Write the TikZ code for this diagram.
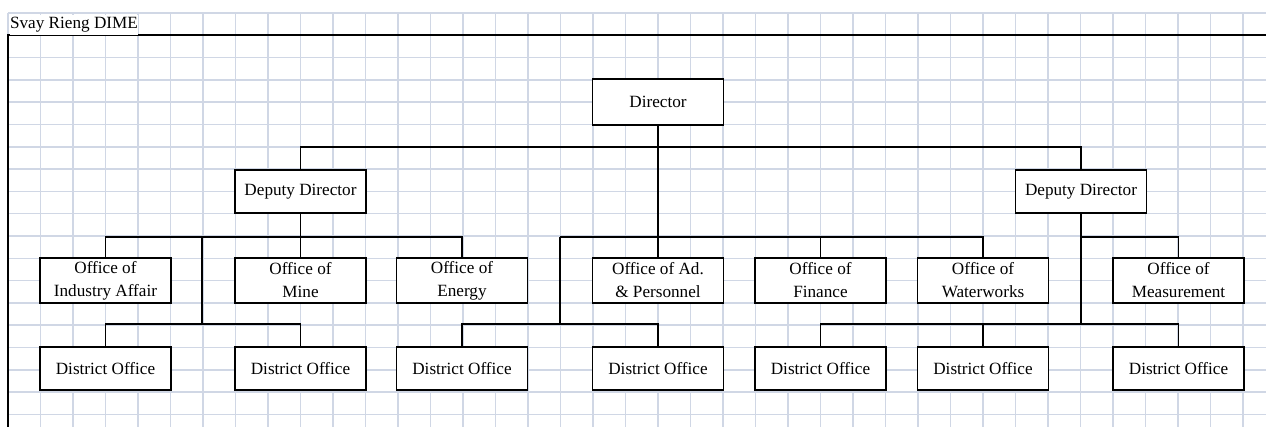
\documentclass[tikz,border=0pt]{standalone}
\usepackage{fontspec}
\setmainfont{Liberation Serif}
\definecolor{gridc}{RGB}{208,215,229}
\tikzset{box/.style={draw,fill=white,line width=1.1pt,minimum width=78.6pt,minimum height=26pt,inner ysep=1pt,align=center},
office/.style={box,minimum height=27pt}}

\begin{document}
\begin{tikzpicture}[x=0.6pt,y=-0.6pt,node distance=52.8pt,line width=1.1pt,font=\fontsize{10.3}{13.8}\selectfont]
\useasboundingbox(0,0)rectangle(1266,427);
\foreach \i in {0,...,38}\draw[gridc,line width=0.9pt](8+32.5*\i,13)--(8+32.5*\i,427);
\foreach \j in {0,...,18}\draw[gridc,line width=0.9pt](8,13+22.3*\j)--(1266,13+22.3*\j);
\draw[line width=1.3pt](1266,35)--(8,35)--(8,427);
\node[fill=white,inner sep=0,minimum width=76.8pt,minimum height=12pt](ttl)at(74,25){Svay Rieng DIME};

\node[box,minimum height=27.6pt](dir)at(658,102){Director};
\node[box](dl)at(300.5,191.5){Deputy Director};
\node[box](dr)at(1081,191.5){Deputy Director};
\node[office](o1)at(105.5,280.5){Office of\\Industry Affair};
\node[office](o2)at(300.5,280.5){Office of\\Mine};
\node[office](o3)at(462,280.5){Office of\\Energy};
\node[office](o4)at(658,280.5){Office of Ad.\\\& Personnel};
\node[office](o5)at(820.5,280.5){Office of\\Finance};
\node[office](o6)at(983,280.5){Office of\\Waterworks};
\node[office](o7)at(1178.5,280.5){Office of\\Measurement};
\node[box,below of=o1](d1){District Office};
\node[box,below of=o2](d2){District Office};
\node[box,below of=o3](d3){District Office};
\node[box,below of=o4](d4){District Office};
\node[box,below of=o5](d5){District Office};
\node[box,below of=o6](d6){District Office};
\node[box,below of=o7](d7){District Office};

\coordinate(j1)at(658,147);
\coordinate(j2)at(202,237);\coordinate(j3)at(202,324);
\coordinate(j4)at(560,237);\coordinate(j5)at(560,324);
\coordinate(j6)at(1081,237);\coordinate(j7)at(1081,324);
\draw(dl)|-(j1)-|(dr)(dir)--(o4);
\draw(dl)--(o2)(o1)|-(j2)-|(o3)(j2)--(j3)(d1)|-(j3)-|(d2);
\draw(j4)-|(o6)(o5)--(o5|-j4)(j4)--(j5)(d3)|-(j5)-|(d4);
\draw(dr)--(j7)(j6)-|(o7)(d5)|-(j7)-|(d7)(d6)--(d6|-j7);
\end{tikzpicture}
\end{document}
